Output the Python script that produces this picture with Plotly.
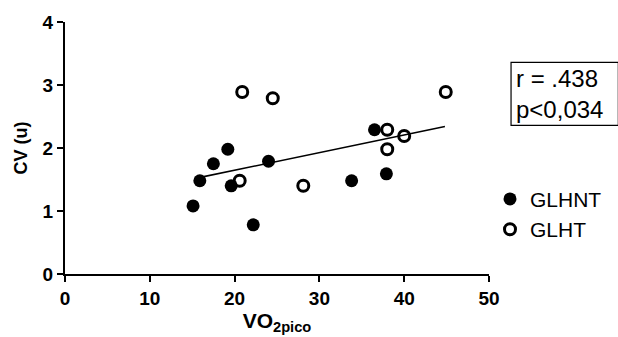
import plotly.graph_objects as go

# GLHNT (filled)
glhnt_x = [15.1, 15.9, 17.5, 19.2, 19.6, 22.2, 24.0, 33.8, 36.5, 37.9]
glhnt_y = [1.08, 1.48, 1.75, 1.98, 1.40, 0.78, 1.79, 1.48, 2.29, 1.59]
# GLHT (open)
glht_x = [20.9, 20.6, 24.5, 28.1, 38.0, 38.0, 40.0, 44.9]
glht_y = [2.89, 1.48, 2.79, 1.40, 2.29, 1.98, 2.19, 2.89]
# regression line ends
fit_x = [15.8, 44.8]
fit_y = [1.53, 2.34]

x_ticks = [0, 10, 20, 30, 40, 50]
y_ticks = [0, 1, 2, 3, 4]

FONT = "Liberation Sans, Arial, sans-serif"

fig = go.Figure()
fig.add_trace(go.Scatter(x=fit_x, y=fit_y, mode="lines",
                         line=dict(color="black", width=1.6), showlegend=False,
                         hoverinfo="skip"))
fig.add_trace(go.Scatter(x=glhnt_x, y=glhnt_y, mode="markers", name="GLHNT",
                         marker=dict(symbol="circle", size=13, color="black",
                                     line=dict(width=0))))
fig.add_trace(go.Scatter(x=glht_x, y=glht_y, mode="markers", name="GLHT",
                         marker=dict(symbol="circle-open", size=11, color="black",
                                     line=dict(width=3, color="black"))))

axis_common = dict(showgrid=False, zeroline=False, showline=True, linecolor="black",
                   linewidth=2, ticks="outside", tickcolor="black", tickwidth=2,
                   ticklen=6, automargin=False,
                   tickfont=dict(family=FONT, size=19, color="black", weight="bold"))

fig.update_layout(
    width=618, height=337,
    margin=dict(l=65, r=128, t=22, b=63),
    paper_bgcolor="white", plot_bgcolor="white",
    font=dict(family=FONT, color="black"),
    xaxis=dict(range=[0, 50], tickvals=x_ticks, **axis_common,
               title=dict(text="<b>VO<sub>2pico</sub></b>",
                          font=dict(family=FONT, size=21, color="black"),
                          standoff=4)),
    yaxis=dict(range=[0, 4], tickvals=y_ticks, **axis_common,
               title=dict(text="<b>CV (u)</b>",
                          font=dict(family=FONT, size=18, color="black"),
                          standoff=10)),
    legend=dict(x=1.0, y=0.378, xanchor="left", yanchor="top",
                font=dict(family=FONT, size=21, color="black"),
                bgcolor="rgba(0,0,0,0)", tracegroupgap=0),
    shapes=[dict(type="rect", xref="paper", yref="paper",
                 x0=1.052, x1=1.305, y0=0.59, y1=0.84,
                 line=dict(color="black", width=1.2), fillcolor="white",
                 layer="below")],
    annotations=[dict(x=1.058, y=0.716, xref="paper", yref="paper",
                      xanchor="left", yanchor="middle", showarrow=False,
                      text="r = .438<br>p&lt;0,034", align="left",
                      font=dict(family=FONT, size=24, color="black"))],
)

fig.write_html("out.html", config={"displayModeBar": False},
               post_script="document.body.style.margin='0';"
                           "document.body.style.overflow='hidden';")
